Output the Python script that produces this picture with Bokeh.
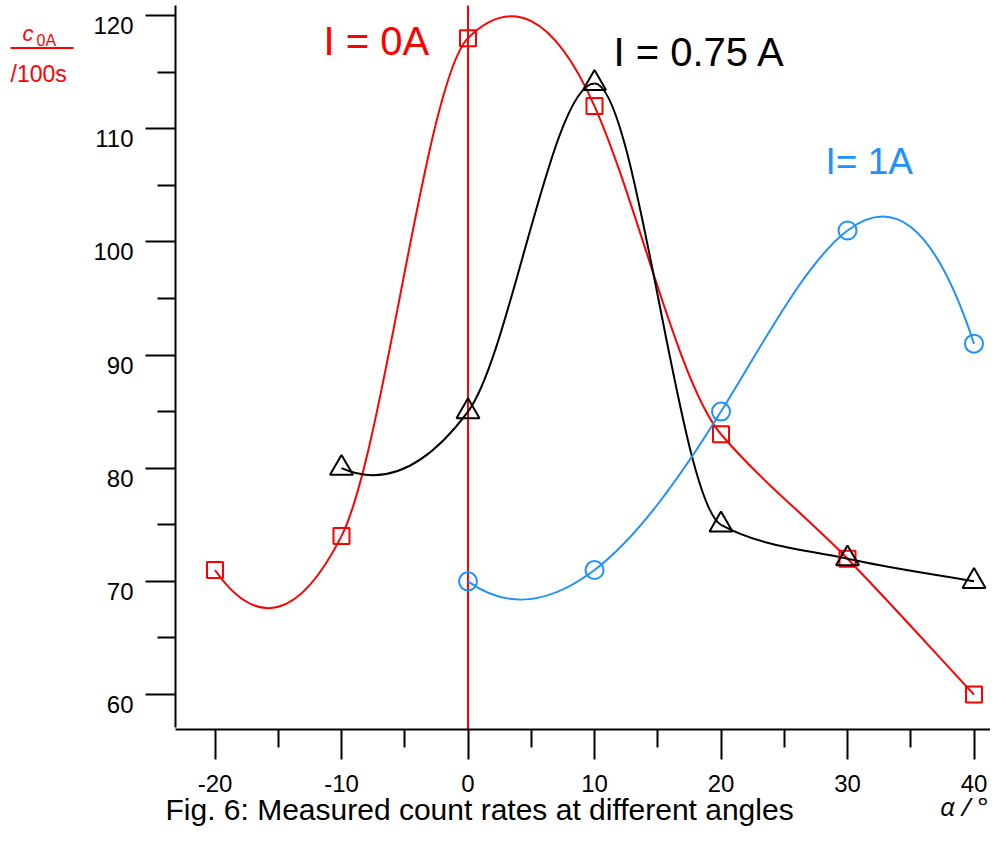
import numpy as np
from bokeh.plotting import figure
from bokeh.models import Range1d, FixedTicker, Label, LabelSet, ColumnDataSource
from bokeh.core.properties import value
from bokeh.embed import file_html
from bokeh.resources import INLINE

# ---------------- data ----------------
x_red = [-20, -10, 0, 10, 20, 30, 40]
y_red = [71, 74, 118, 112, 83, 72, 60]
slope_red = [-1.6, 2.2, 1.1, -2.5, -1.3, -1.15, -1.2]      # curve slope at each point

x_black = [-10, 0, 10, 20, 30, 40]
y_black = [80, 85, 114, 75, 72, 70]
slope_black = [-0.5, 1.5, 0.0, -0.6, -0.25, -0.2]

x_blue = [0, 10, 20, 30, 40]
y_blue = [70, 71, 85, 101, 91]
slope_blue = [-0.8, 0.85, 1.8, 0.85, -3.4]

x_ticks = [-20, -10, 0, 10, 20, 30, 40]
x_minor = [-15, -5, 5, 15, 25, 35]
y_ticks = [60, 70, 80, 90, 100, 110, 120]
y_minor = [65, 75, 85, 95, 105, 115]

RED = "#ff0000"
BLACK = "#000000"
BLUE = "#1e90ff"
FONT = "Liberation Sans"

W, H = 990, 829


# reference pixel -> data coordinate (used for placing axes / annotations)
def dx(px):
    return -20 + (px - 214.5) / 12.65


def dy(py):
    return 120 - (py - 15) / 11.317


def hermite_beziers(xs, ys, slopes):
    """Smooth curve through the points with the given slopes, as Bezier segments."""
    x = np.asarray(xs, float)
    y = np.asarray(ys, float)
    s = np.asarray(slopes, float)
    h = np.diff(x)
    return ColumnDataSource(dict(
        x0=x[:-1], y0=y[:-1], x1=x[1:], y1=y[1:],
        cx0=x[:-1] + h / 3, cy0=y[:-1] + s[:-1] * h / 3,
        cx1=x[1:] - h / 3, cy1=y[1:] - s[1:] * h / 3))


p = figure(width=W, height=H, output_backend="svg", toolbar_location=None,
           x_range=Range1d(dx(0), dx(W)), y_range=Range1d(dy(H), dy(0)),
           min_border_left=0, min_border_right=0, min_border_top=0,
           min_border_bottom=0)
p.outline_line_color = None
p.background_fill_color = "white"
p.border_fill_color = "white"
p.xgrid.visible = False
p.ygrid.visible = False

X_AXIS_Y = dy(729)
Y_AXIS_X = dx(175)
Y_TOP = dy(5)

for ax, ticks, minor in ((p.xaxis[0], x_ticks, x_minor), (p.yaxis[0], y_ticks, y_minor)):
    ax.ticker = FixedTicker(ticks=ticks, minor_ticks=minor)
    ax.axis_line_width = 2
    ax.axis_line_color = "black"
    ax.major_tick_in = 0
    ax.major_tick_out = 30
    ax.minor_tick_in = 0
    ax.minor_tick_out = 18
    ax.major_tick_line_width = 2
    ax.minor_tick_line_width = 2
    ax.major_label_text_font = FONT
    ax.major_label_text_font_size = "24px"
    ax.major_label_text_color = "black"

p.xaxis.fixed_location = X_AXIS_Y
p.xaxis.bounds = (Y_AXIS_X, dx(W))
p.xaxis.major_label_overrides = {t: str(t) for t in x_ticks}
p.xaxis.major_label_standoff = 15

p.yaxis.fixed_location = Y_AXIS_X
p.yaxis.bounds = (dy(727), Y_TOP)
p.yaxis.major_label_overrides = {t: "" for t in y_ticks}

# y tick labels (sit slightly below their ticks, as in the original)
p.add_layout(LabelSet(x=dx(133), y="y", text="t",
                      source=ColumnDataSource(dict(y=y_ticks, t=[str(t) for t in y_ticks])),
                      text_font=value(FONT), text_font_size=value("24px"),
                      text_color="black", text_align="right",
                      text_baseline="middle", y_offset=-10))

# vertical red line at alpha = 0
p.segment(x0=[0], y0=[X_AXIS_Y], x1=[0], y1=[Y_TOP], line_color=RED, line_width=2)

# curves
for xs, ys, ss, col in ((x_red, y_red, slope_red, RED),
                        (x_black, y_black, slope_black, BLACK),
                        (x_blue, y_blue, slope_blue, BLUE)):
    p.bezier(x0="x0", y0="y0", x1="x1", y1="y1", cx0="cx0", cy0="cy0",
             cx1="cx1", cy1="cy1", source=hermite_beziers(xs, ys, ss),
             line_color=col, line_width=2)

# markers
p.scatter(x_red, y_red, marker="square", size=16, fill_color=None,
          line_color=RED, line_width=2)
p.scatter(x_black, y_black, marker="triangle", size=23, fill_color=None,
          line_color=BLACK, line_width=2)
p.scatter(x_blue, y_blue, marker="circle", size=18, fill_color=None,
          line_color=BLUE, line_width=2)


def lab(px, base, text, color, size, style="normal", align="left", font=FONT):
    # base = wanted baseline (picture pixels); compensate renderer's baseline shift
    p.add_layout(Label(x=dx(px), y=dy(base - 0.39 * size), text=text,
                       text_color=color, text_font=font,
                       text_font_size=f"{size}px", text_font_style=style,
                       text_align=align, text_baseline="alphabetic"))


lab(323, 56, "I = 0A", RED, 40)
lab(613, 67, "I = 0.75 A", BLACK, 40)
lab(825, 175, "I= 1A", BLUE, 37)

# y axis unit label (top left): c_0A / 100s
lab(22, 42, "c", RED, 22, style="italic")
lab(36, 46, "0A", RED, 16)
p.segment(x0=[dx(10)], y0=[dy(47.5)], x1=[dx(73)], y1=[dy(47.5)],
          line_color=RED, line_width=2)
lab(10, 82, "/100s", RED, 23)

# x axis label and caption
lab(988, 816, "α / °", BLACK, 26, style="italic", align="right", font="Open Sans")
lab(165, 821, "Fig. 6: Measured count rates at different angles", BLACK, 30)

open("out.html", "w").write(file_html(p, INLINE))
